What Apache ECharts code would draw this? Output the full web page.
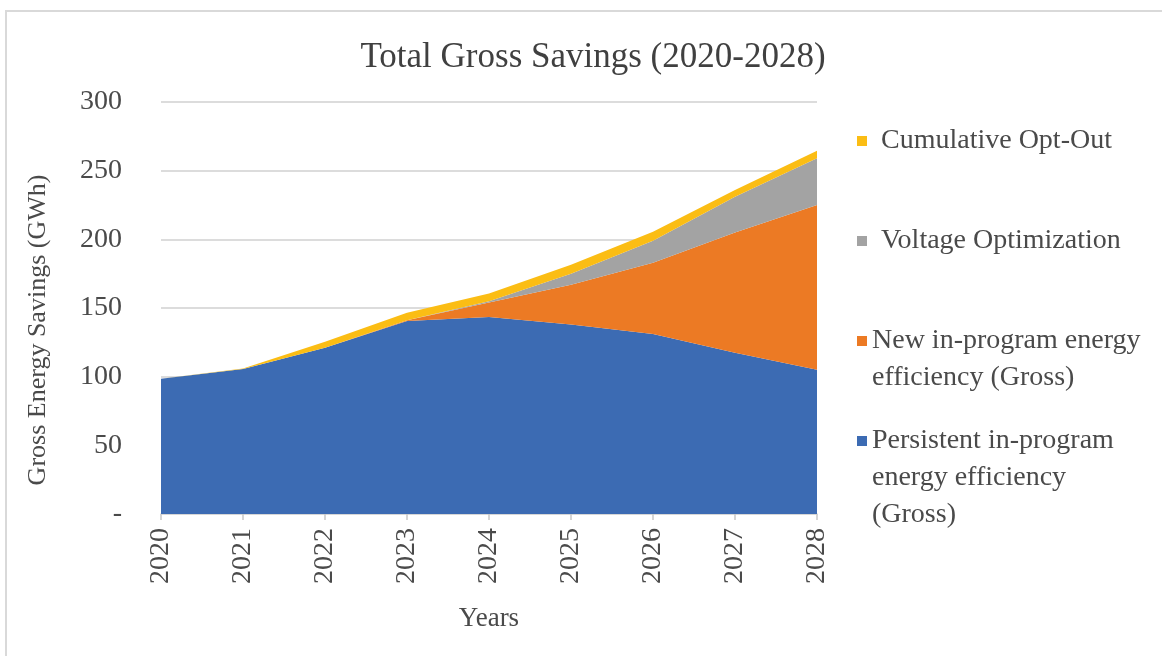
<!DOCTYPE html>
<html>
<head>
<meta charset="utf-8">
<title>Total Gross Savings (2020-2028)</title>
<script src="https://cdn.jsdelivr.net/npm/echarts@6/dist/echarts.min.js"></script>
<style>
  html, body { margin: 0; padding: 0; background: #fff; overflow: hidden; }
  #frame {
    position: absolute; left: 5px; top: 10px; width: 1200px; height: 700px;
    border: 2px solid #d9d9d9; box-sizing: border-box;
  }
  #main { position: absolute; left: 0; top: 0; width: 1162px; height: 656px; }
</style>
</head>
<body>
<div id="frame"></div>
<div id="main"></div>
<script>
  // data (GWh)
  const years = ['2020', '2021', '2022', '2023', '2024', '2025', '2026', '2027', '2028']
  const persistent = [98.5, 105.5, 121, 140.5, 143.5, 138, 131, 117.5, 105]
  const newProgram = [0, 0, 0, 0.5, 10.5, 29, 52, 87.5, 120]
  const voltage = [0, 0, 0, 0, 1, 8, 16, 26, 34]
  const optOut = [0, 0.5, 4.5, 5.5, 5.5, 6.5, 6.5, 5, 5.5]
  const yTicks = [0, 50, 100, 150, 200, 250, 300]

  const names = {
    persistent: 'Persistent in-program energy efficiency (Gross)',
    newProgram: 'New in-program energy efficiency (Gross)',
    voltage: 'Voltage Optimization',
    optOut: 'Cumulative Opt-Out'
  }
  const colors = {
    persistent: '#3c6bb3',
    newProgram: '#ec7a24',
    voltage: '#a3a3a3',
    optOut: '#fbbd14'
  }

  const font = 'Liberation Serif'
  const textColor = '#4a4a4a'
  const lineH = 37

  // one legend per entry; blank lines in front keep the icon level with the first text line
  function legendFor (name, lines, iconY, padLeft) {
    const label = '\n'.repeat(lines.length - 1) + lines.join('\n')
    const boxH = lineH * (2 * lines.length - 1)
    return {
      left: 857,
      top: iconY - boxH / 2,
      padding: 0,
      selectedMode: false,
      icon: 'rect',
      itemWidth: 10,
      itemHeight: 10,
      formatter: () => label,
      data: [{
        name: name,
        textStyle: {
          fontFamily: font,
          fontSize: 28,
          color: textColor,
          lineHeight: lineH,
          padding: [0, 0, 0, padLeft]
        }
      }]
    }
  }

  function areaSeries (key, values) {
    return {
      name: names[key],
      type: 'line',
      stack: 'total',
      data: values,
      symbol: 'none',
      lineStyle: { width: 0 },
      areaStyle: { color: colors[key], opacity: 1 },
      itemStyle: { color: colors[key] },
      emphasis: { disabled: true }
    }
  }

  const chart = echarts.init(document.getElementById('main'))
  chart.setOption({
    animation: false,
    title: {
      text: 'Total Gross Savings (2020-2028)',
      left: 588,
      top: 35,
      textAlign: 'center',
      textStyle: {
        fontFamily: font,
        fontSize: 35,
        fontWeight: 'normal',
        color: '#404040',
        lineHeight: 36
      }
    },
    legend: [
      legendFor(names.optOut, ['Cumulative Opt-Out'], 141, 9),
      legendFor(names.voltage, ['Voltage Optimization'], 241, 9),
      legendFor(names.newProgram, ['New in-program energy', 'efficiency (Gross)'], 341, 0),
      legendFor(names.persistent, ['Persistent in-program', 'energy efficiency', '(Gross)'], 441, 0)
    ],
    grid: { left: 161, right: 345, top: 102, bottom: 142 },
    xAxis: {
      type: 'category',
      data: years,
      boundaryGap: false,
      name: 'Years',
      nameLocation: 'middle',
      nameGap: 91,
      nameTextStyle: { fontFamily: font, fontSize: 27, color: textColor },
      axisLine: { lineStyle: { color: '#d4d4d4', width: 1.5 } },
      axisTick: { show: true, length: 6, lineStyle: { color: '#c8c8c8', width: 1.5 } },
      axisLabel: {
        rotate: 90,
        margin: 14,
        fontFamily: font,
        fontSize: 28,
        color: textColor
      },
      splitLine: { show: false }
    },
    yAxis: {
      type: 'value',
      min: yTicks[0],
      max: yTicks[yTicks.length - 1],
      interval: 50,
      name: 'Gross Energy Savings (GWh)',
      nameLocation: 'middle',
      nameGap: 110,
      nameRotate: 90,
      nameTextStyle: {
        fontFamily: font,
        fontSize: 26,
        color: textColor,
        padding: [0, 44, 0, 0]
      },
      axisLine: { show: false },
      axisTick: { show: false },
      axisLabel: {
        margin: 39,
        fontFamily: font,
        fontSize: 28,
        color: textColor,
        formatter: v => (v === 0 ? '-' : String(v))
      },
      splitLine: { lineStyle: { color: '#dcdcdc', width: 2 } }
    },
    series: [
      areaSeries('persistent', persistent),
      areaSeries('newProgram', newProgram),
      areaSeries('voltage', voltage),
      areaSeries('optOut', optOut)
    ]
  })
</script>
</body>
</html>
